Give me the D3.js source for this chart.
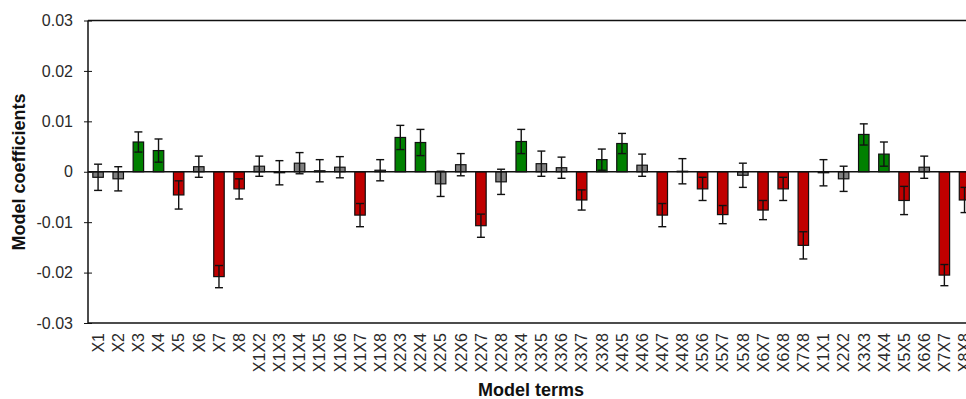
<!DOCTYPE html>
<html>
<head>
<meta charset="utf-8">
<script src="https://cdn.jsdelivr.net/npm/d3@7"></script>
<style>
  html, body { margin: 0; padding: 0; background: #fff; overflow: hidden; }
  svg { display: block; font-family: "Liberation Sans", Arial, sans-serif; }
</style>
</head>
<body>
<svg id="chart" width="966" height="399"></svg>
<script>
// Model terms (main effects, two-way interactions, quadratic terms)
const terms = [
  "X1","X2","X3","X4","X5","X6","X7","X8",
  "X1X2","X1X3","X1X4","X1X5","X1X6","X1X7","X1X8",
  "X2X3","X2X4","X2X5","X2X6","X2X7","X2X8",
  "X3X4","X3X5","X3X6","X3X7","X3X8",
  "X4X5","X4X6","X4X7","X4X8",
  "X5X6","X5X7","X5X8",
  "X6X7","X6X8","X7X8",
  "X1X1","X2X2","X3X3","X4X4","X5X5","X6X6","X7X7","X8X8"
];

// Estimated coefficients
const coefficients = [
  -0.0011, -0.0014, 0.0059, 0.0042, -0.0046, 0.0010, -0.0208, -0.0034,
  0.0011, -0.0002, 0.0017, 0.0002, 0.0009, -0.0086, 0.0003,
  0.0068, 0.0058, -0.0024, 0.0014, -0.0107, -0.0020,
  0.0060, 0.0016, 0.0008, -0.0056, 0.0024,
  0.0056, 0.0013, -0.0086, 0.0001,
  -0.0034, -0.0085, -0.0007,
  -0.0076, -0.0034, -0.0146,
  -0.0002, -0.0014, 0.0074, 0.0035, -0.0057, 0.0009, -0.0205, -0.0056
];

// Confidence half-widths
const errors = [
  0.0026, 0.0024, 0.0020, 0.0023, 0.0028, 0.0021, 0.0022, 0.0020,
  0.0020, 0.0024, 0.0021, 0.0022, 0.0021, 0.0023, 0.0021,
  0.0024, 0.0026, 0.0025, 0.0022, 0.0023, 0.0025,
  0.0024, 0.0025, 0.0021, 0.0020, 0.0021,
  0.0020, 0.0022, 0.0023, 0.0025,
  0.0023, 0.0018, 0.0024,
  0.0019, 0.0023, 0.0027,
  0.0026, 0.0025, 0.0021, 0.0024, 0.0028, 0.0022, 0.0021, 0.0025
];

const yTicks = [-0.03, -0.02, -0.01, 0, 0.01, 0.02, 0.03];
const yDomain = [-0.03, 0.03];

const data = terms.map((t, i) => ({ term: t, value: coefficients[i], err: errors[i] }));

const svg = d3.select("#chart");
const plotLeft = 88, plotTop = 20.5, plotBottom = 323;
const step = 20.15;
const plotRight = plotLeft + step * terms.length;

const x = d3.scaleBand().domain(terms).range([plotLeft, plotRight]).paddingInner(0.48).paddingOuter(0.24);
const y = d3.scaleLinear().domain(yDomain).range([plotBottom, plotTop]);

function barColor(d) {
  if (d.value - d.err > 0) return "#008000";
  if (d.value + d.err < 0) return "#c00000";
  return "#808080";
}

// frame: top border
svg.append("line")
  .attr("x1", plotLeft).attr("x2", 966)
  .attr("y1", plotTop).attr("y2", plotTop)
  .attr("stroke", "#111").attr("stroke-width", 1.5);

// bars
svg.append("g").selectAll("rect").data(data).join("rect")
  .attr("x", d => x(d.term))
  .attr("width", x.bandwidth())
  .attr("y", d => y(Math.max(0, d.value)))
  .attr("height", d => Math.abs(y(d.value) - y(0)))
  .attr("fill", barColor)
  .attr("stroke", "#111")
  .attr("stroke-width", 1.2);

// zero line
svg.append("line")
  .attr("x1", plotLeft).attr("x2", 966)
  .attr("y1", y(0)).attr("y2", y(0))
  .attr("stroke", "#111").attr("stroke-width", 1.3);

// error bars
const eb = svg.append("g").attr("stroke", "#111").attr("stroke-width", 1.4);
data.forEach(d => {
  const cx = x(d.term) + x.bandwidth() / 2;
  const y1 = y(d.value + d.err), y2 = y(d.value - d.err);
  eb.append("line").attr("x1", cx).attr("x2", cx).attr("y1", y1).attr("y2", y2);
  eb.append("line").attr("x1", cx - 4).attr("x2", cx + 4).attr("y1", y1).attr("y2", y1);
  eb.append("line").attr("x1", cx - 4).attr("x2", cx + 4).attr("y1", y2).attr("y2", y2);
});

// y axis (plain hyphen for negative numbers)
const fmt = d => d === 0 ? "0" : d3.format(".2f")(d).replace("\u2212", "-");
const yAxis = svg.append("g")
  .attr("transform", `translate(${plotLeft},0)`)
  .call(d3.axisLeft(y).tickValues(yTicks).tickFormat(fmt).tickSize(4).tickPadding(11));
yAxis.select(".domain").attr("stroke", "#111").attr("stroke-width", 1.5).attr("d", `M0,${plotTop}V${plotBottom}`);
yAxis.selectAll(".tick line").attr("stroke", "#111").attr("x1", 4).attr("x2", -4);
yAxis.selectAll(".tick text")
  .attr("font-size", 16).attr("fill", "#2a2a2a")
  .attr("font-family", "Liberation Sans, Arial, sans-serif");

// x axis
const xAxis = svg.append("g")
  .attr("transform", `translate(0,${plotBottom})`)
  .call(d3.axisBottom(x).tickSize(0).tickPadding(0));
xAxis.select(".domain").attr("stroke", "#111").attr("stroke-width", 1.5).attr("d", `M${plotLeft},0H966`);
xAxis.selectAll(".tick text")
  .attr("font-size", 16).attr("fill", "#2a2a2a")
  .attr("font-family", "Liberation Sans, Arial, sans-serif")
  .attr("text-anchor", "end")
  .attr("transform", "rotate(-90)")
  .attr("x", -10).attr("y", 0).attr("dy", "0.36em");

// axis titles
svg.append("text")
  .attr("transform", `translate(25,172) rotate(-90)`)
  .attr("text-anchor", "middle")
  .attr("font-size", 18).attr("font-weight", "bold").attr("fill", "#111")
  .text("Model coefficients");

svg.append("text")
  .attr("x", 531).attr("y", 396)
  .attr("text-anchor", "middle")
  .attr("font-size", 18).attr("font-weight", "bold").attr("fill", "#111")
  .text("Model terms");
</script>
</body>
</html>
